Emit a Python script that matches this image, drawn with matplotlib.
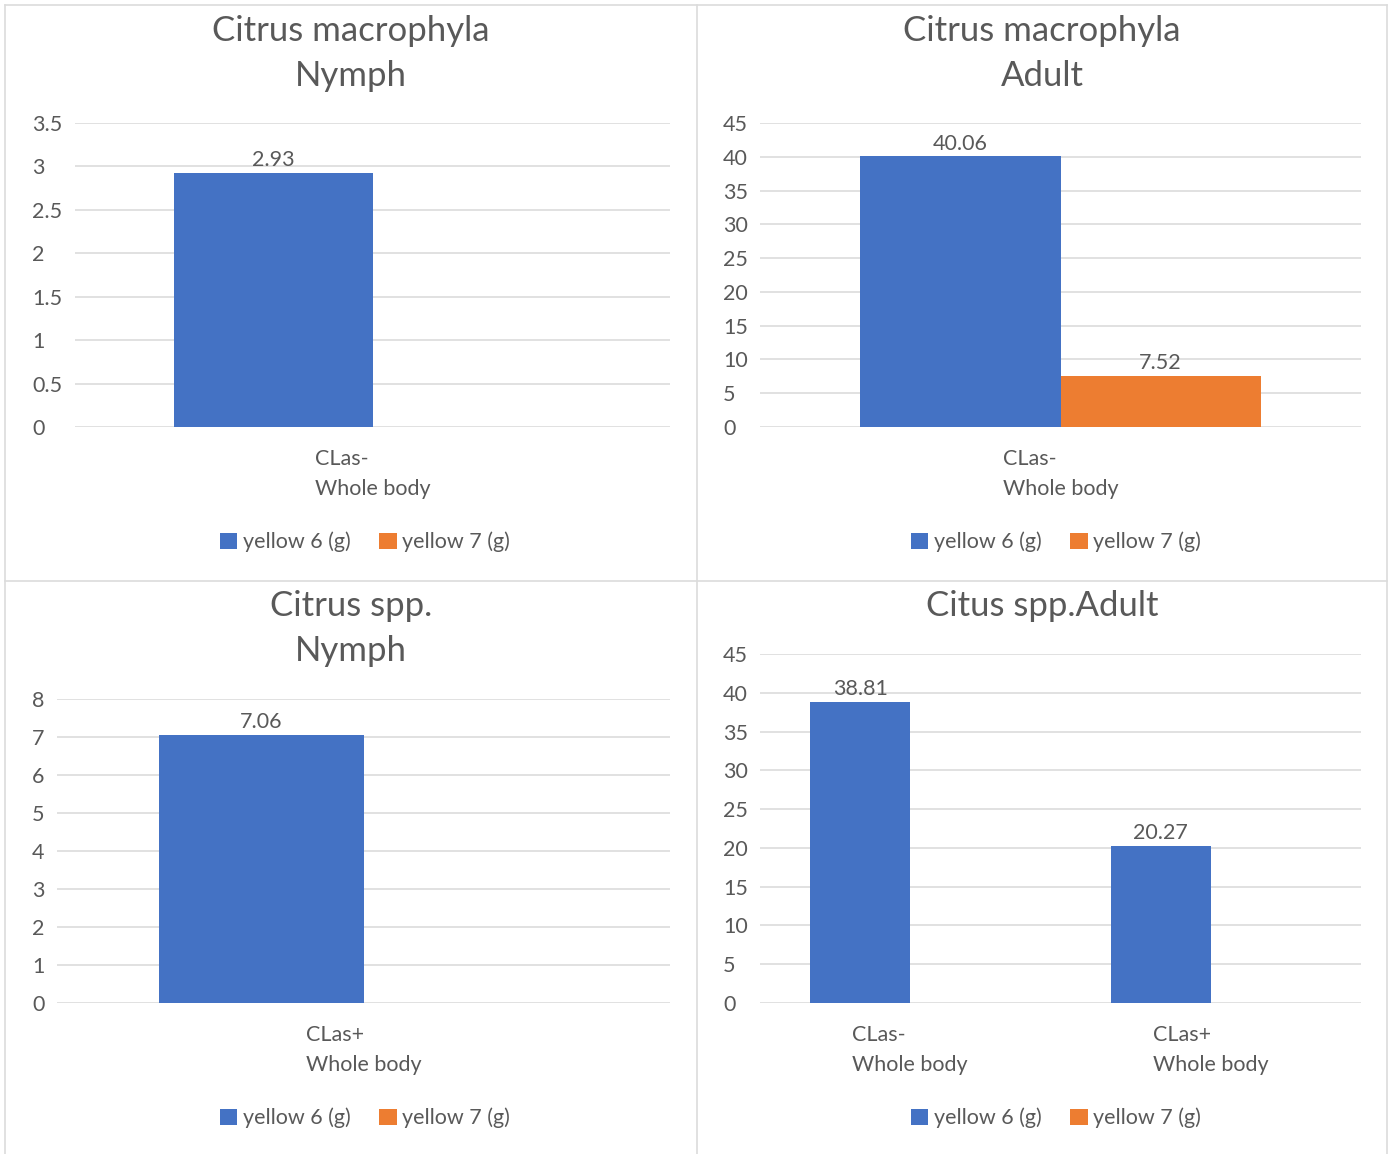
import numpy as np
import matplotlib.pyplot as plt
from matplotlib.lines import Line2D
from matplotlib.ticker import FuncFormatter

plt.rcParams['font.family'] = ['Lato', 'DejaVu Sans']

W, H = 1392, 1154
BLUE = '#4472C4'
ORANGE = '#ED7D31'
GRAY = '#595959'
GRID = '#D9D9D9'
FS = 15.5

series_names = ['yellow 6 (g)', 'yellow 7 (g)']

# panel data
titles = ['Citrus macrophyla\nNymph', 'Citrus macrophyla\nAdult',
          'Citrus spp.\nNymph', 'Citus spp.Adult']
cats = [['CLas-\nWhole body'], ['CLas-\nWhole body'],
        ['CLas+\nWhole body'], ['CLas-\nWhole body', 'CLas+\nWhole body']]
yellow6 = [[2.93], [40.06], [7.06], [38.81, 20.27]]
yellow7 = [[np.nan], [7.52], [np.nan], [np.nan, np.nan]]
ymax = [3.5, 45, 8, 45]
ystep = [0.5, 5, 1, 5]

# layout in pixels
ax_px = [(75, 123, 670, 427), (760, 123, 1361, 427),
         (57, 699, 670, 1003), (760, 654, 1361, 1003)]
label_x = [32, 723, 32, 723]
title_y = [30, 30, 605, 605]
title_x = [351, 1042, 351, 1042]
legend_xy = [(365, 542), (1056, 542), (365, 1118), (1056, 1118)]

fig = plt.figure(figsize=(W / 100, H / 100), dpi=100)

# panel borders
bc = '#DCDCDC'
for xs, ys in [([5, 5], [5, H]), ([1387, 1387], [5, H]), ([697, 697], [5, H]),
               ([5, 1387], [5, 5]), ([5, 1387], [581, 581])]:
    fig.add_artist(Line2D([x / W for x in xs], [1 - y / H for y in ys],
                          color=bc, lw=1.2, transform=fig.transFigure))

for i in range(4):
    x0, y0, x1, y1 = ax_px[i]
    ax = fig.add_axes([x0 / W, 1 - y1 / H, (x1 - x0) / W, (y1 - y0) / H])
    n = len(cats[i])
    x = np.arange(n)
    w = 1 / 3
    b1 = ax.bar(x - w / 2, yellow6[i], w, color=BLUE, label=series_names[0], zorder=3)
    b2 = ax.bar(x + w / 2, yellow7[i], w, color=ORANGE, label=series_names[1], zorder=3)
    for bars, vals in [(b1, yellow6[i]), (b2, yellow7[i])]:
        labs = ['' if np.isnan(v) else f'{v:.2f}' for v in vals]
        ax.bar_label(bars, labels=labs, padding=2, fontsize=FS, color=GRAY)
    ax.set_xlim(-0.5, n - 0.5)
    ax.set_ylim(0, ymax[i])
    ax.set_yticks(np.arange(0, ymax[i] + ystep[i] / 2, ystep[i]))
    ax.yaxis.set_major_formatter(FuncFormatter(lambda v, p: f'{v:g}'))
    ax.set_xticks(x)
    ax.set_xticklabels(cats[i], fontsize=FS, color=GRAY, linespacing=1.62,
                       multialignment='left')
    for s in ax.spines.values():
        s.set_visible(False)
    ax.grid(axis='y', color=GRID, lw=1.1, zorder=0)
    ax.tick_params(axis='both', length=0, colors=GRAY, labelsize=FS)
    ax.tick_params(axis='x', pad=16)
    ax.tick_params(axis='y', pad=(x0 - label_x[i]) * 0.72)
    for lbl in ax.get_yticklabels():
        lbl.set_ha('left')
    fig.text(title_x[i] / W, 1 - (title_y[i] - 15) / H, titles[i], ha='center',
             va='top', fontsize=25, color=GRAY, linespacing=1.5)
    lx, ly = legend_xy[i]
    ax.legend(loc='center', bbox_to_anchor=(lx / W, 1 - ly / H),
              bbox_transform=fig.transFigure, ncol=2, frameon=False,
              fontsize=FS, labelcolor=GRAY, handlelength=0.8, handleheight=0.8,
              handletextpad=0.25, columnspacing=1.35)

fig.savefig('out.png', dpi=100, facecolor='white')
